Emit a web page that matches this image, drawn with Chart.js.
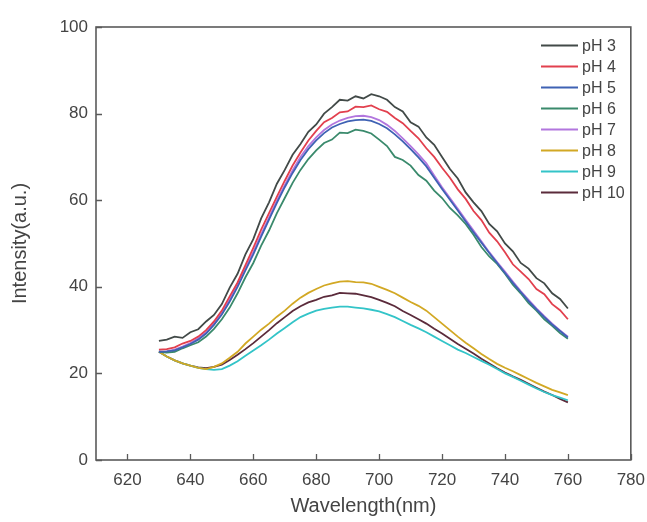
<!DOCTYPE html>
<html>
<head>
<meta charset="utf-8">
<script src="https://cdn.jsdelivr.net/npm/chart.js@4.4.0/dist/chart.umd.min.js"></script>
<style>
  html, body { margin: 0; padding: 0; background: #fff; }
  canvas { display: block; }
</style>
</head>
<body>
<canvas id="chart" width="647" height="522"></canvas>
<script>
// wavelength (nm), every 2.5 nm
const wavelengths = [630, 632.5, 635, 637.5, 640, 642.5, 645, 647.5, 650, 652.5,
  655, 657.5, 660, 662.5, 665, 667.5, 670, 672.5, 675, 677.5,
  680, 682.5, 685, 687.5, 690, 692.5, 695, 697.5, 700, 702.5,
  705, 707.5, 710, 712.5, 715, 717.5, 720, 722.5, 725, 727.5,
  730, 732.5, 735, 737.5, 740, 742.5, 745, 747.5, 750, 752.5,
  755, 757.5, 760];

const ph3 = [27.5, 27.8, 28.5, 28.2, 29.5, 30.2, 32, 33.5, 36, 39.8,
  43, 47.5, 51, 55.8, 59.5, 63.8, 67, 70.5, 73, 75.8,
  77.5, 80, 81.5, 83.2, 83, 84, 83.5, 84.5, 84, 83.2,
  81.5, 80.5, 78, 77, 74.5, 72.8, 70, 67.2, 65, 61.8,
  59.5, 57.5, 54.5, 52.8, 50, 48.2, 45.5, 44.2, 42, 40.8,
  38.5, 37.2, 35];
const ph4 = [25.5, 25.6, 26, 26.9, 27.5, 28.5, 30, 32, 34.5, 37.8,
  41, 45, 49, 53.2, 57, 60.8, 64.5, 68, 71, 73.8,
  76, 78, 79, 80.3, 80.5, 81.6, 81.5, 81.9, 81, 80.4,
  79, 77.8, 76, 74.3, 72, 70, 67.5, 65.2, 62.5, 60.3,
  57.5, 55.4, 52.5, 50.5, 48, 45.2, 43.5, 41.8, 39.5, 38.3,
  36, 34.6, 32.5];
const ph5 = [25, 25.1, 25.3, 26, 26.8, 27.8, 29.2, 31.2, 33.6, 36.6,
  40, 43.8, 47.5, 51.6, 55.5, 59.4, 63, 66.3, 69.3, 71.8,
  73.8, 75.5, 76.8, 77.6, 78.2, 78.5, 78.6, 78.3, 77.6, 76.6,
  75.2, 73.6, 71.8, 69.9, 67.8, 65.2, 62.6, 60.1, 57.6, 55.1,
  52.6, 50.2, 47.8, 45.5, 43.2, 40.9, 38.8, 36.7, 34.8, 33,
  31.3, 29.8, 28.3];
const ph6 = [25, 24.8, 25, 25.8, 26.5, 27.2, 28.5, 30.3, 32.5, 35.2,
  38.5, 42.2, 45.5, 49.5, 53, 57, 60.5, 64, 67, 69.5,
  71.5, 73.2, 74, 75.6, 75.5, 76.3, 76, 75.4, 74, 72.5,
  70, 69.3, 68, 65.8, 64.5, 62.2, 60.5, 58.2, 56.5, 54.5,
  52, 49.2, 47, 45.3, 43, 40.5, 38.5, 36.2, 34.5, 32.5,
  31, 29.3, 28];
const ph7 = [25, 25.1, 25.5, 26.2, 27, 28.1, 29.5, 31.6, 34, 37.1,
  40.5, 44.3, 48, 52.1, 56, 59.9, 63.5, 66.9, 70, 72.5,
  74.5, 76.2, 77.5, 78.4, 79, 79.4, 79.5, 79.2, 78.5, 77.4,
  76, 74.3, 72.5, 70.6, 68.5, 65.7, 63, 60.5, 58, 55.5,
  53, 50.5, 48, 45.7, 43.5, 41.2, 39, 37, 35, 33.2,
  31.5, 29.9, 28.5];
const ph8 = [25, 23.9, 23, 22.3, 21.8, 21.3, 21, 21.5, 22.3, 23.6,
  25, 26.9, 28.5, 30.1, 31.5, 33.1, 34.5, 36.1, 37.5, 38.6,
  39.5, 40.3, 40.8, 41.2, 41.3, 41.1, 41, 40.7, 40, 39.3,
  38.5, 37.5, 36.5, 35.6, 34.5, 33, 31.5, 30, 28.5, 27.1,
  25.8, 24.5, 23.3, 22.2, 21.3, 20.5, 19.6, 18.7, 17.8, 17,
  16.2, 15.6, 15];
const ph9 = [25, 23.9, 23, 22.3, 21.8, 21.3, 21, 20.8, 21, 21.8,
  22.8, 24.1, 25.3, 26.5, 27.8, 29.2, 30.5, 31.8, 33, 33.8,
  34.5, 34.9, 35.2, 35.4, 35.4, 35.2, 35, 34.7, 34.3, 33.7,
  33, 32.1, 31.2, 30.4, 29.5, 28.5, 27.5, 26.5, 25.5, 24.7,
  23.8, 22.9, 22, 21, 20, 19.2, 18.3, 17.4, 16.5, 15.7,
  15, 14.4, 13.8];
const ph10 = [25, 23.9, 23, 22.3, 21.8, 21.4, 21.2, 21.5, 22, 23.1,
  24.3, 25.6, 27, 28.5, 30, 31.6, 33, 34.4, 35.5, 36.4,
  37, 37.7, 38, 38.6, 38.5, 38.4, 38, 37.6, 37, 36.3,
  35.5, 34.4, 33.5, 32.5, 31.5, 30.3, 29.2, 28, 26.8, 25.7,
  24.6, 23.4, 22.3, 21.2, 20.2, 19.3, 18.5, 17.6, 16.7, 15.8,
  15, 14.1, 13.3];

const seriesLabels = ['pH 3', 'pH 4', 'pH 5', 'pH 6', 'pH 7', 'pH 8', 'pH 9', 'pH 10'];
const seriesValues = [ph3, ph4, ph5, ph6, ph7, ph8, ph9, ph10];
const seriesColors = ['#424a48', '#e2404e', '#3f62b4', '#3a8a6c', '#b276de', '#d2a824', '#33c4c8', '#5b2b3b'];

const xTicks = [620, 640, 660, 680, 700, 720, 740, 760, 780];
const yTicks = [0, 20, 40, 60, 80, 100];

const axisColor = '#5a5a5a';
const textColor = '#444';
const fontFamily = '"Liberation Sans", Arial, sans-serif';

// box, inward ticks and legend inside the plot
const framePlugin = {
  id: 'frame',
  afterDraw(chart) {
    const ctx = chart.ctx;
    const a = chart.chartArea;
    const xs = chart.scales.x;
    const ys = chart.scales.y;
    ctx.save();
    ctx.strokeStyle = axisColor;
    ctx.lineWidth = 1.6;
    ctx.strokeRect(a.left, a.top, a.right - a.left, a.bottom - a.top);

    ctx.lineWidth = 1.3;
    ctx.beginPath();
    xTicks.forEach(v => {
      const px = Math.round(xs.getPixelForValue(v)) + 0.5;
      ctx.moveTo(px, a.bottom);
      ctx.lineTo(px, a.bottom - 6);
    });
    yTicks.forEach(v => {
      const py = Math.round(ys.getPixelForValue(v)) + 0.5;
      ctx.moveTo(a.left, py);
      ctx.lineTo(a.left + 6, py);
    });
    ctx.stroke();

    // legend
    ctx.font = '16px ' + fontFamily;
    ctx.textBaseline = 'middle';
    ctx.textAlign = 'left';
    chart.data.datasets.forEach((ds, i) => {
      const y = 45.5 + i * 21;
      ctx.strokeStyle = ds.borderColor;
      ctx.lineWidth = 2;
      ctx.beginPath();
      ctx.moveTo(541, y);
      ctx.lineTo(578, y);
      ctx.stroke();
      ctx.fillStyle = textColor;
      ctx.fillText(ds.label, 582, y + 1);
    });
    ctx.restore();
  }
};

const datasets = seriesLabels.map((label, i) => ({
  label: label,
  data: wavelengths.map((w, j) => ({ x: w, y: seriesValues[i][j] })),
  borderColor: seriesColors[i],
  backgroundColor: seriesColors[i],
  borderWidth: 1.8,
  pointRadius: 0,
  tension: 0,
  fill: false
}));

new Chart(document.getElementById('chart'), {
  type: 'line',
  data: { datasets: datasets },
  plugins: [framePlugin],
  options: {
    responsive: false,
    animation: false,
    devicePixelRatio: 1,
    layout: { padding: { left: 8, top: 27, right: 16, bottom: 4 } },
    plugins: {
      legend: { display: false },
      tooltip: { enabled: false }
    },
    scales: {
      x: {
        type: 'linear',
        min: 610,
        max: 780,
        grid: { display: false },
        border: { display: false },
        afterBuildTicks: scale => { scale.ticks = xTicks.map(v => ({ value: v })); },
        afterFit: scale => { scale.height = 58; },
        ticks: {
          color: textColor,
          font: { family: fontFamily, size: 17 },
          padding: 2,
          maxRotation: 0,
          autoSkip: false
        },
        title: {
          display: true,
          text: 'Wavelength(nm)',
          color: textColor,
          font: { family: fontFamily, size: 20 },
          padding: 0
        }
      },
      y: {
        min: 0,
        max: 100,
        grid: { display: false },
        border: { display: false },
        afterBuildTicks: scale => { scale.ticks = yTicks.map(v => ({ value: v })); },
        afterFit: scale => { scale.width = 88; },
        ticks: {
          color: textColor,
          font: { family: fontFamily, size: 17 },
          padding: 0
        },
        title: {
          display: true,
          text: 'Intensity(a.u.)',
          color: textColor,
          font: { family: fontFamily, size: 20 },
          padding: 0
        }
      }
    }
  }
});
</script>
</body>
</html>
